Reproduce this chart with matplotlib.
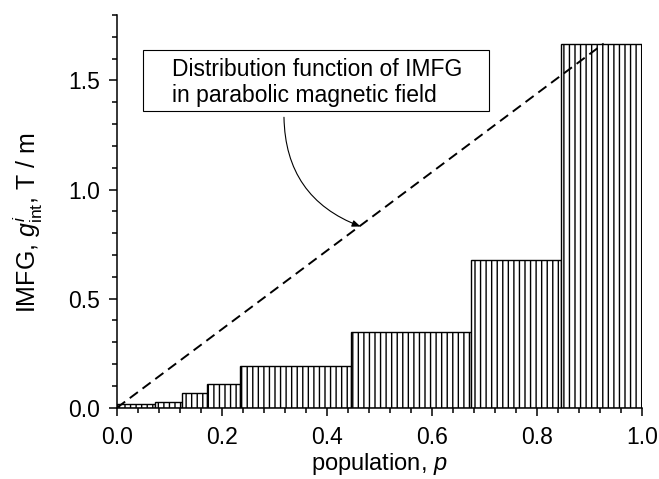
import matplotlib
matplotlib.use("Agg")
import matplotlib.pyplot as plt
from matplotlib.ticker import MultipleLocator, AutoMinorLocator
from matplotlib.patches import Rectangle, FancyArrowPatch

# Data
bin_edges = [0.0, 0.0725, 0.124, 0.172, 0.235, 0.445, 0.674, 0.845, 1.0]
imfg_values = [0.017, 0.028, 0.069, 0.109, 0.189, 0.347, 0.677, 1.669]
line_p = [0.0, 0.927]
line_g = [0.0, 1.669]
box_text = ["Distribution function of IMFG", "in parabolic magnetic field"]

plt.rcParams['font.family'] = ['Liberation Sans', 'DejaVu Sans']
plt.rcParams['mathtext.fontset'] = 'custom'
plt.rcParams['mathtext.rm'] = 'Liberation Sans'
plt.rcParams['mathtext.it'] = 'Liberation Sans:italic'
plt.rcParams['hatch.linewidth'] = 1.0

fig = plt.figure(figsize=(6.59, 4.79), dpi=100)
ax = fig.add_axes([117/659, 1-407.7/479, (642-117)/659, (407.7-15)/479])

lefts = bin_edges[:-1]
widths = [b - a for a, b in zip(bin_edges[:-1], bin_edges[1:])]
ax.bar(lefts, imfg_values, width=widths, align='edge', facecolor='white',
       edgecolor='black', linewidth=1.0, hatch='|||', zorder=2)

ax.plot(line_p, line_g, color='black', lw=1.4, linestyle=(0, (5.2, 3.0)), zorder=3)

ax.set_xlim(0, 1.0)
ax.set_ylim(0, 1.8)
ax.set_xticks([0, 0.2, 0.4, 0.6, 0.8, 1.0])
ax.set_xticklabels(['0.0', '0.2', '0.4', '0.6', '0.8', '1.0'])
ax.set_yticks([0, 0.5, 1.0, 1.5])
ax.set_yticklabels(['0.0', '0.5', '1.0', '1.5'])
ax.xaxis.set_minor_locator(AutoMinorLocator(5))
ax.yaxis.set_minor_locator(AutoMinorLocator(5))

for s in ['top', 'right']:
    ax.spines[s].set_visible(False)
for s in ['left', 'bottom']:
    ax.spines[s].set_linewidth(1.1)
ax.tick_params(which='major', direction='out', length=6, width=1.1, labelsize=16.5)
ax.tick_params(axis='x', which='major', pad=7)
ax.tick_params(axis='y', which='major', pad=6)
ax.tick_params(which='minor', direction='out', length=3.5, width=1.1)

ax.set_xlabel('population, $\\it{p}$', fontsize=17)
ax.set_ylabel('IMFG, $g^{\\it{i}}_{\\rm{int}}$, T / m', fontsize=18)
ax.xaxis.set_label_coords(0.5, -0.11)
ax.yaxis.set_label_coords(-0.137, 0.47)

# annotation box
ax.add_patch(Rectangle((0.0495, 1.362), 0.709 - 0.0495, 1.638 - 1.362,
                       facecolor='white', edgecolor='black', linewidth=0.8,
                       zorder=4, clip_on=False))
ax.text(0.105, 1.52, box_text[0], fontsize=16.5, va='baseline', ha='left', zorder=5)
ax.text(0.105, 1.399, box_text[1], fontsize=16.5, va='baseline', ha='left', zorder=5)

arr = FancyArrowPatch((0.318, 1.344), (0.469, 0.826),
                      connectionstyle='arc3,rad=0.35', arrowstyle='-|>,head_length=5,head_width=2',
                      color='black', lw=0.8, zorder=5)
ax.add_patch(arr)

fig.savefig('out.png', dpi=100)
